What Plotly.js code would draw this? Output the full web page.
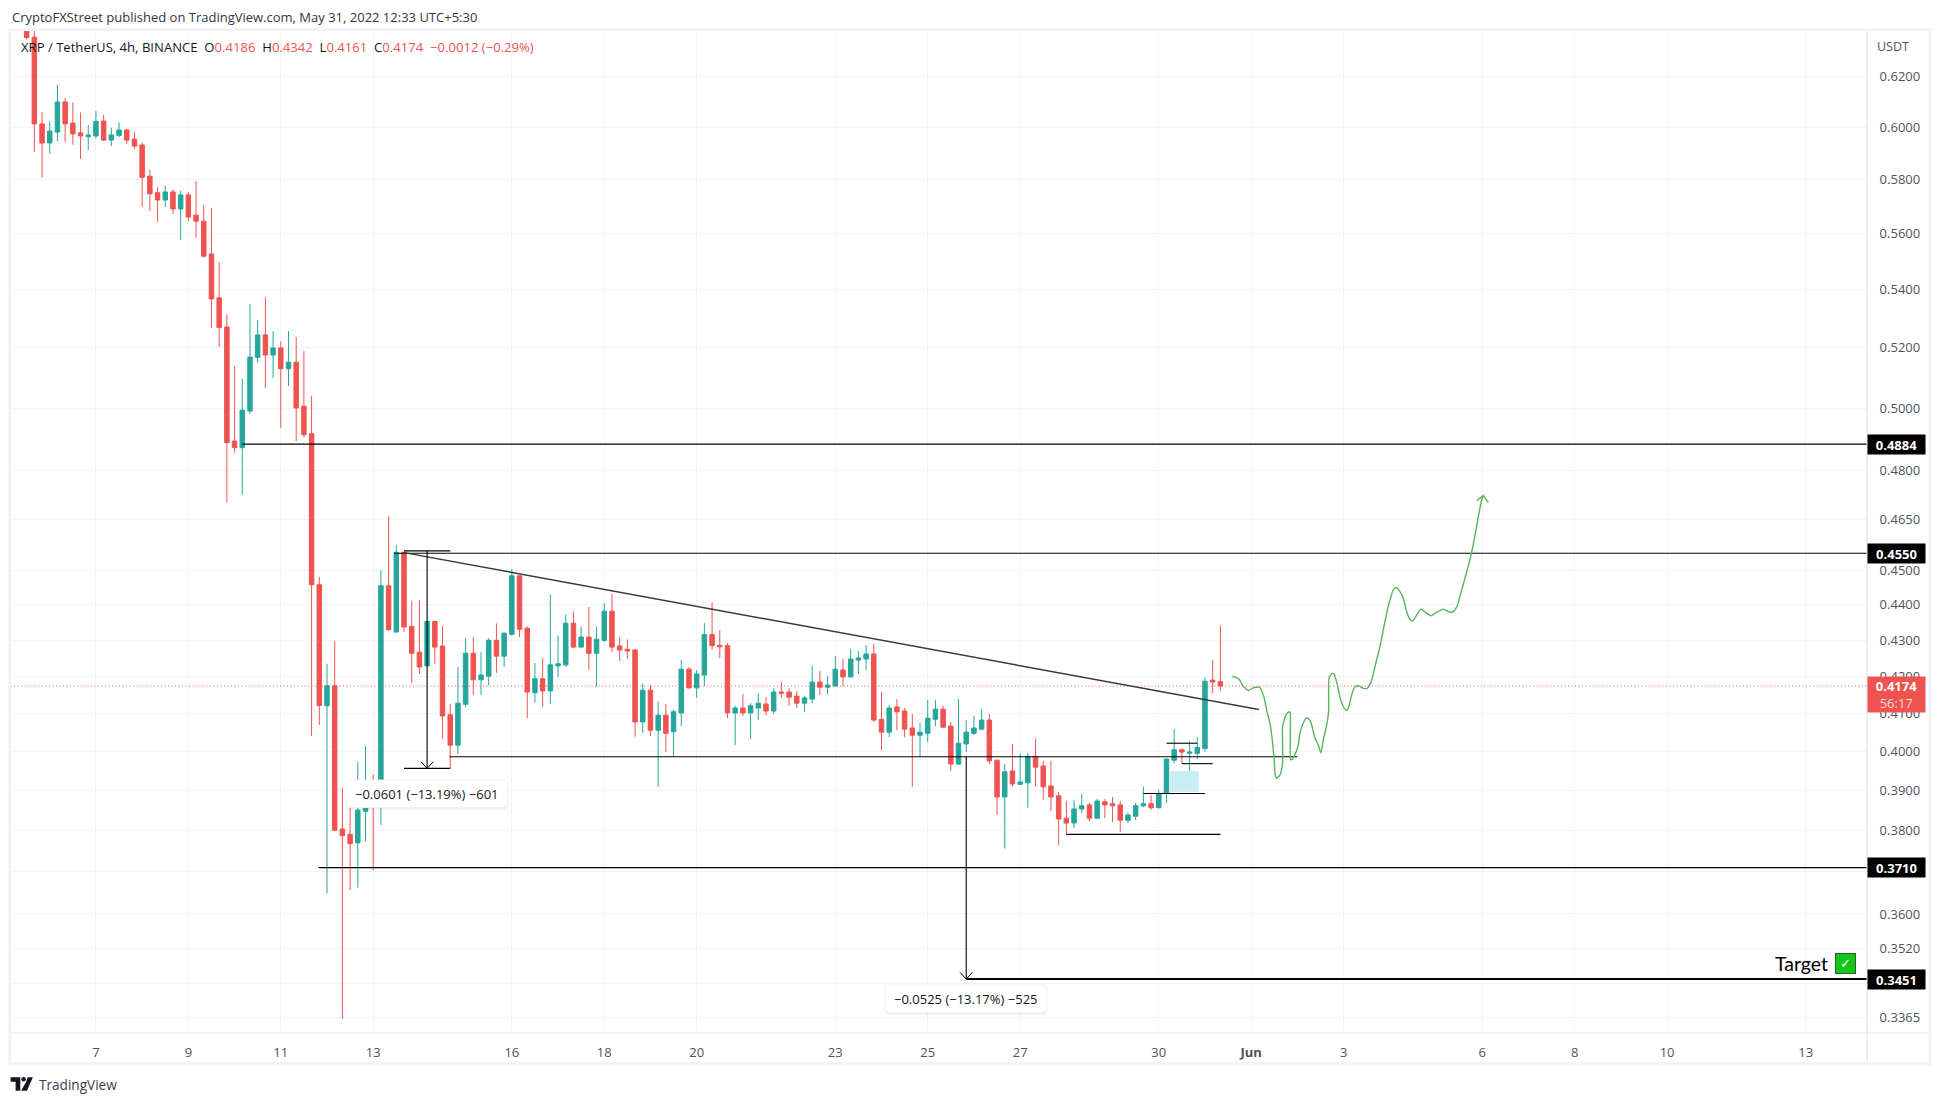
<!DOCTYPE html>
<html><head><meta charset="utf-8">
<script src="https://cdn.plot.ly/plotly-3.0.1.min.js"></script>
<style>html,body{margin:0;padding:0;background:#fff}#c{width:1941px;height:1103px}</style></head>
<body><div id="c"></div>
<script>
const openP=[.6420,.6361,.6013,.5939,.5981,.6099,.6016,.5978,.5963,.5966,
.6024,.5950,.5968,.5989,.5954,.5931,.5812,.5750,.5723,.5753,
.5690,.5742,.5667,.5645,.5526,.5371,.5270,.4894,.4873,.4990,
.5167,.5243,.5175,.5199,.5129,.5151,.5006,.4917,.4458,.4121,
.4175,.3804,.3791,.3770,.3848,.3907,.3871,.4455,.4323,.4553,
.4339,.4267,.4229,.4353,.4284,.4097,.4017,.4125,.4264,.4191,
.4201,.4300,.4256,.4317,.4484,.4334,.4156,.4194,.4161,.4229,
.4232,.4348,.4281,.4309,.4264,.4300,.4382,.4284,.4275,.4273,
.4078,.4163,.4056,.4096,.4052,.4102,.4220,.4169,.4204,.4316,
.4286,.4285,.4102,.4115,.4102,.4115,.4126,.4107,.4158,.4158,
.4147,.4128,.4139,.4185,.4171,.4174,.4218,.4199,.4245,.4248,
.4262,.4085,.4051,.4118,.4107,.4062,.4043,.4048,.4085,.4112,
.4067,.3968,.4020,.4048,.4059,.4083,.3978,.3884,.3950,.3916,
.3920,.3988,.3963,.3912,.3887,.3831,.3819,.3854,.3864,.3831,
.3872,.3867,.3864,.3826,.3836,.3862,.3867,.3857,.3895,.3978,
.4005,.3996,.3996,.4008,.4190,.4186];
const highP=[.6450,.6440,.6058,.6023,.6167,.6114,.6097,.6058,.6009,.6063,
.6048,.5998,.6019,.5992,.5981,.5940,.5836,.5771,.5775,.5763,
.5757,.5753,.5794,.5705,.5694,.5497,.5314,.5138,.5095,.5349,
.5294,.5373,.5256,.5222,.5256,.5236,.5188,.5040,.4481,.4235,
.4298,.3907,.3857,.3973,.4014,.3942,.4500,.4661,.4574,.4555,
.4411,.4414,.4353,.4355,.4339,.4125,.4226,.4306,.4309,.4267,
.4306,.4348,.4322,.4503,.4486,.4339,.4237,.4250,.4429,.4314,
.4373,.4382,.4339,.4394,.4337,.4405,.4432,.4309,.4303,.4276,
.4181,.4176,.4133,.4126,.4110,.4245,.4226,.4218,.4349,.4408,
.4329,.4292,.4121,.4152,.4128,.4155,.4144,.4168,.4185,.4168,
.4160,.4147,.4229,.4215,.4202,.4256,.4248,.4276,.4270,.4287,
.4290,.4158,.4123,.4139,.4115,.4099,.4076,.4137,.4137,.4121,
.4078,.4139,.4083,.4094,.4112,.4099,.3978,.3968,.4020,.3995,
.3996,.4033,.3976,.3976,.3897,.3874,.3877,.3892,.3869,.3879,
.3879,.3884,.3874,.3844,.3869,.3910,.3889,.3902,.3981,.4059,
.4008,.4027,.4038,.4198,.4245,.4342];
const lowP=[.6352,.5905,.5807,.5898,.5946,.5942,.5932,.5878,.5912,.5956,
.5946,.5927,.5961,.5935,.5917,.5697,.5682,.5645,.5697,.5671,
.5576,.5645,.5584,.5515,.5268,.5202,.4703,.4857,.4726,.4981,
.5149,.5066,.5099,.4936,.5072,.4894,.4905,.4041,.4070,.3648,
.3800,.3363,.3656,.3662,.3773,.3704,.3814,.4326,.4323,.4323,
.4183,.4208,.4229,.4235,.4033,.3957,.3994,.4118,.4150,.4150,
.4176,.4210,.4226,.4313,.4309,.4088,.4129,.4118,.4126,.4199,
.4226,.4278,.4281,.4218,.4173,.4295,.4267,.4243,.4249,.4039,
.4049,.4041,.3910,.3999,.3987,.4067,.4168,.4142,.4174,.4273,
.4250,.4088,.4017,.4094,.4033,.4083,.4096,.4099,.4142,.4121,
.4115,.4105,.4128,.4150,.4152,.4173,.4174,.4198,.4207,.4218,
.4078,.4004,.4038,.4056,.4038,.3910,.3987,.4025,.4067,.4062,
.3950,.3965,.3999,.4043,.4056,.3968,.3839,.3756,.3910,.3914,
.3857,.3910,.3877,.3849,.3765,.3791,.3807,.3844,.3824,.3829,
.3831,.3821,.3797,.3819,.3826,.3859,.3852,.3856,.3869,.3970,
.3969,.3950,.3981,.4000,.4155,.4161];
const closeP=[.6360,.6013,.5939,.5985,.6099,.6013,.5974,.5966,.5970,.6023,
.5950,.5970,.5989,.5950,.5927,.5808,.5746,.5723,.5753,.5690,
.5742,.5660,.5645,.5518,.5367,.5268,.4889,.4873,.4993,.5168,
.5243,.5175,.5199,.5129,.5151,.5000,.4914,.4458,.4122,.4175,
.3801,.3788,.3768,.3851,.3907,.3870,.4455,.4330,.4553,.4337,
.4264,.4226,.4353,.4281,.4094,.4017,.4128,.4264,.4191,.4204,
.4300,.4256,.4320,.4484,.4331,.4158,.4194,.4161,.4232,.4235,
.4348,.4281,.4309,.4264,.4303,.4382,.4281,.4273,.4270,.4078,
.4163,.4056,.4096,.4048,.4105,.4220,.4169,.4207,.4316,.4285,
.4282,.4102,.4115,.4102,.4121,.4128,.4107,.4158,.4155,.4144,
.4128,.4142,.4185,.4171,.4177,.4220,.4199,.4248,.4251,.4262,
.4083,.4051,.4115,.4105,.4059,.4043,.4051,.4088,.4112,.4064,
.3968,.4022,.4051,.4062,.4083,.3976,.3884,.3948,.3917,.3922,
.3988,.3960,.3910,.3884,.3829,.3819,.3854,.3862,.3831,.3874,
.3864,.3862,.3826,.3839,.3862,.3867,.3857,.3892,.3981,.4005,
.3999,.3999,.4011,.4187,.4185,.4174];
const candleIdx=openP.map((_,i)=>i);

const xTickVals=[9,21,33,45,63,75,87,105,117,129,147,159,171,189,201,213,231];
const xTickText=['7','9','11','13','16','18','20','23','25','27','30','<b>Jun</b>','3','6','8','10','13'];
const yTickVals=[.62,.60,.58,.56,.54,.52,.50,.48,.465,.45,.44,.43,.42,.41,.40,.39,.38,.37,.36,.352,.344,.3365];
const yTickText=['0.6200','0.6000','0.5800','0.5600','0.5400','0.5200','0.5000','0.4800','0.4650','0.4500','0.4400','0.4300','0.4200','0.4100','0.4000','0.3900','0.3800','','0.3600','0.3520','','0.3365'];

const pathX=[156.54,157.10,157.54,157.84,158.62,159.27,160.05,160.65,161.0,161.43,161.74,161.95,162.13,162.30,162.73,163.08,163.08,163.51,163.90,164.07,164.12,164.33,164.77,165.11,165.33,165.76,166.2,166.63,166.97,167.28,167.71,168.06,168.36,168.71,169.05,169.10,169.44,169.75,170.09,170.52,170.96,171.39,171.69,172.04,172.47,172.9,173.55,174.07,174.64,175.07,175.72,176.15,176.59,177.02,177.45,177.88,178.32,178.75,179.18,179.62,179.96,180.48,181.04,181.56,182.34,183.08,183.94,184.81,185.24,185.76,186.2,186.89,187.62,188.06,188.49,188.92,189.14];
const pathY=[.4200,.4197,.4190,.4177,.4162,.4169,.4171,.4145,.4110,.4075,.4031,.3987,.3940,.3931,.3940,.3970,.4066,.4097,.4105,.4101,.3980,.3980,.3996,.4017,.4048,.4075,.4089,.4082,.4061,.4035,.4017,.3997,.4031,.4061,.4105,.4195,.4208,.4207,.4186,.4145,.4119,.4108,.4119,.4150,.4172,.4175,.4168,.4168,.4190,.4227,.4282,.4329,.4376,.4414,.4443,.4450,.4438,.4419,.4381,.4359,.4354,.4371,.4388,.4380,.4369,.4379,.4388,.4379,.4381,.4397,.4433,.4487,.4552,.4603,.4659,.4710,.4724];
const arrowX=[188.27,189.14,189.79], arrowY=[.4708,.4724,.4702];

const lastPrice=.4174, rightEnd=239;
const PX=p=>(p-11.4)/(1867-11.4), PY=p=>1-(p-31)/(1033-31);

function line(x,y,w,c,extra){return Object.assign({type:'scatter',mode:'lines',x:x,y:y,line:{color:c||'#000',width:w||1},hoverinfo:'skip',showlegend:false},extra||{});}

const traces=[
 line([-2.1,rightEnd],[lastPrice,lastPrice],1,'#ef5350',{line:{color:'#ef5350',width:1,dash:'1px 2.5px'}}),
 {type:'scatter',mode:'lines',x:[148.4,152.2,152.2,148.4,148.4],y:[.3950,.3950,.3897,.3897,.3950],fill:'toself',fillcolor:'#c8eef5',line:{width:0,color:'#c8eef5'},hoverinfo:'skip',showlegend:false},
 {type:'candlestick',x:candleIdx,open:openP,high:highP,low:lowP,close:closeP,whiskerwidth:0,
  increasing:{line:{color:'#26a69a',width:1},fillcolor:'#26a69a'},
  decreasing:{line:{color:'#ef5350',width:1},fillcolor:'#ef5350'},showlegend:false,hoverinfo:'skip'},
 line([28,rightEnd],[.4884,.4884],1.1),
 line([47.7,rightEnd],[.4550,.4550],1.1),
 line([54.9,165],[.3987,.3987],1.1),
 line([37.9,rightEnd],[.3710,.3710],1.1),
 line([122,rightEnd],[.3451,.3451],2),
 line([49,160],[.4552,.4111],1.4,'#3a3a3a'),
 line([49,55],[.4557,.4557],1.1),
 line([49,55],[.3957,.3957],1.1),
 line([52,52],[.4557,.3957],1.1),
 line([51.2,52,52.8],[.3974,.3957,.3974],1),
 line([122,122],[.3987,.3451],1.1),
 line([121.2,122,122.8],[.3466,.3451,.3466],1),
 line([135,155],[.3791,.3791],1.1),
 line([145,153],[.3893,.3893],1.1),
 line([148,152],[.4022,.4022],1.1),
 line([150,154],[.3969,.3969],1.1),
 line(pathX,pathY,1.4,'#58b55c',{line:{color:'#58b55c',width:1.4,shape:'spline',smoothing:.5}}),
 line(arrowX,arrowY,1.4,'#58b55c')
];

function rr(x0,y0,x1,y1,r){
 const X=PX,Y=PY;
 return `M${X(x0+r)},${Y(y0)} L${X(x1-r)},${Y(y0)} Q${X(x1)},${Y(y0)} ${X(x1)},${Y(y0+r)} L${X(x1)},${Y(y1-r)} Q${X(x1)},${Y(y1)} ${X(x1-r)},${Y(y1)} L${X(x0+r)},${Y(y1)} Q${X(x0)},${Y(y1)} ${X(x0)},${Y(y1-r)} L${X(x0)},${Y(y0+r)} Q${X(x0)},${Y(y0)} ${X(x0+r)},${Y(y0)} Z`;
}
function pshape(o){return Object.assign({xref:'paper',yref:'paper'},o);}
const shapes=[
 pshape({type:'rect',x0:PX(10.2),x1:PX(1930),y0:PY(29.8),y1:PY(1063.5),line:{color:'#f0f3fa',width:3},fillcolor:'rgba(0,0,0,0)',layer:'below'}),
 pshape({type:'line',x0:PX(1867),x1:PX(1867),y0:PY(31),y1:PY(1063),line:{color:'#e0e3eb',width:1.2}}),
 pshape({type:'line',x0:PX(11),x1:PX(1929),y0:PY(1033),y1:PY(1033),line:{color:'#e0e3eb',width:1.2}}),
 pshape({type:'path',path:rr(346,782,508,810,5),fillcolor:'rgba(40,50,80,0.07)',line:{width:0},layer:'above'}),
 pshape({type:'path',path:rr(346,780,508,807.5,5),fillcolor:'#ffffff',line:{width:1,color:'#f0f1f5'},layer:'above'}),
 pshape({type:'path',path:rr(885,987,1047,1015,5),fillcolor:'rgba(40,50,80,0.07)',line:{width:0},layer:'above'}),
 pshape({type:'path',path:rr(885,985,1047,1012.7,5),fillcolor:'#ffffff',line:{width:1,color:'#f0f1f5'},layer:'above'}),
 pshape({type:'path',path:`M${PX(11)},${PY(1077.3)} L${PX(20.7)},${PY(1077.3)} L${PX(20.7)},${PY(1090.7)} L${PX(16)},${PY(1090.7)} L${PX(16)},${PY(1081.7)} L${PX(11)},${PY(1081.7)} Z`,fillcolor:'#131722',line:{width:0}}),
 pshape({type:'circle',x0:PX(21.8),x1:PX(26.2),y0:PY(1077.1),y1:PY(1081.5),fillcolor:'#131722',line:{width:0}}),
 pshape({type:'path',path:`M${PX(26.7)},${PY(1081.5)} L${PX(28)},${PY(1077.3)} L${PX(33.3)},${PY(1077.3)} L${PX(27.3)},${PY(1090.7)} L${PX(21.5)},${PY(1090.7)} Z`,fillcolor:'#131722',line:{width:0}})
];

const F='"Open Sans", sans-serif';
const txt='#131722', axisc='#50535e';
function tag(price,label){return {xref:'paper',yref:'y',x:1,xanchor:'left',y:Math.log10(price),yanchor:'middle',text:'<b>'+label+'</b>',showarrow:false,bgcolor:'#000',width:55,height:17,align:'center',font:{family:F,size:13,color:'#fff'},borderpad:1};}
function ptext(x,y,text,o){return Object.assign({xref:'paper',yref:'paper',x:PX(x),y:PY(y),xanchor:'left',yanchor:'middle',text:text,showarrow:false,align:'left',font:{family:F,size:13,color:txt}},o||{});}
const r='#ef5350';
const s=t=>`<span style="color:${r}">${t}</span>`;
const annotations=[
 ptext(10,16.5,'CryptoFXStreet published on TradingView.com, May 31, 2022 12:33 UTC+5:30',{font:{family:F,size:13,color:'#333640'}}),
 ptext(19,46.5,`XRP / TetherUS, 4h, BINANCE&#160;&#160;O${s('0.4186')}&#160;&#160;H${s('0.4342')}&#160;&#160;L${s('0.4161')}&#160;&#160;C${s('0.4174')}&#160;&#160;${s('−0.0012 (−0.29%)')}`,{font:{family:F,size:13.1,color:txt}}),
 ptext(1875,46.7,'USDT',{font:{family:F,size:12.5,color:axisc}}),
 ptext(37,1084,'TradingView',{font:{family:F,size:13.6,color:'#3a3d46'}}),
 ptext(427,793.7,'−0.0601 (−13.19%) −601',{xanchor:'center',font:{family:F,size:13,color:txt}}),
 ptext(966,999,'−0.0525 (−13.17%) −525',{xanchor:'center',font:{family:F,size:13,color:txt}}),
 ptext(1773,963.5,'Target',{font:{family:'Lato, sans-serif',size:19.5,color:'#000'}}),
 ptext(1846,963.5,'<b>✓</b>',{xanchor:'center',width:19,height:19,bgcolor:'#17c517',bordercolor:'#2e5e2e',borderwidth:1,borderpad:0,align:'center',font:{family:'DejaVu Sans',size:13,color:'#fff'}}),
 tag(.4884,'0.4884'),tag(.4550,'0.4550'),tag(.3710,'0.3710'),tag(.3451,'0.3451'),
 {xref:'paper',yref:'y',x:1,xanchor:'left',y:Math.log10(.4152),yanchor:'middle',text:'<b>0.4174</b><br><span style="color:rgba(255,255,255,.78)">56:17</span>',showarrow:false,bgcolor:'#ef5350',width:55,height:33,align:'center',font:{family:F,size:13,color:'#fff'},borderpad:1}
];

const layout={
 width:1941,height:1103,paper_bgcolor:'#fff',plot_bgcolor:'#fff',
 margin:{l:11.4,r:74,t:31,b:70,pad:0},showlegend:false,boxgap:.42,boxgroupgap:0,hovermode:false,
 xaxis:{type:'linear',range:[-2.03,238.96],tickmode:'array',tickvals:xTickVals,ticktext:xTickText,
  showgrid:true,gridcolor:'#f0f3fa',gridwidth:1,zeroline:false,showline:false,ticks:'outside',ticklen:7,tickcolor:'rgba(0,0,0,0)',
  tickfont:{family:F,size:13,color:axisc},rangeslider:{visible:false},fixedrange:true,automargin:false},
 yaxis:{type:'log',side:'right',range:[Math.log10(.33322),Math.log10(.63868)],tickmode:'array',tickvals:yTickVals,ticktext:yTickText,
  showgrid:true,gridcolor:'#f0f3fa',gridwidth:1,zeroline:false,showline:false,ticks:'outside',ticklen:9,tickcolor:'rgba(0,0,0,0)',
  tickfont:{family:F,size:13,color:axisc},fixedrange:true,automargin:false},
 shapes:shapes,annotations:annotations
};
Plotly.newPlot('c',traces,layout,{displayModeBar:false,staticPlot:true});
</script></body></html>
